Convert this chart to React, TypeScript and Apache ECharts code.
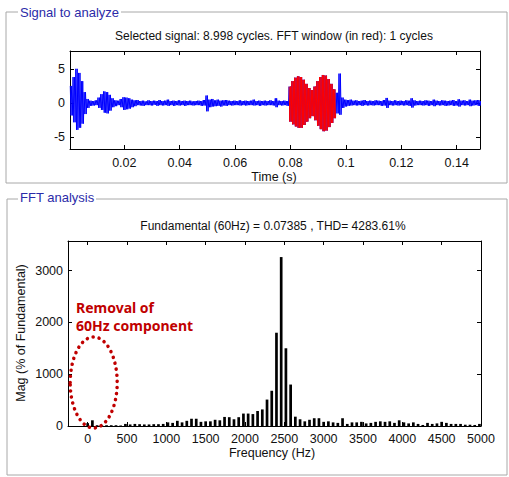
import React, { useEffect, useRef } from "react";
import * as echarts from "echarts";

// ---- Data ----
// Signal envelope: upper / lower extremes, one pair per 1 ms sample (starting at 0.5 ms)
const sampleStart = 0.0005;
const sampleStep = 0.001;
const signalHi = [
  2.5, 3.8, 5.0, 4.4, 3.2, 1.6, 0.6, 0.35, 0.3, 0.4,
  0.8, 1.3, 1.7, 1.6, 1.2, 0.7, 0.4, 0.35, 0.6, 0.85,
  0.8, 0.7, 0.5, 0.4, 0.45, 0.3, 0.35, 0.25, 0.4, 0.3,
  0.35, 0.3, 0.45, 0.3, 0.35, 0.5, 0.3, 0.35, 0.3, 0.4,
  0.3, 0.35, 0.3, 0.35, 0.25, 0.3, 0.35, 0.3, 0.45, 1.1,
  0.5, 0.6, 0.4, 0.5, 0.35, 0.4, 0.45, 0.35, 0.3, 0.35,
  0.3, 0.4, 0.3, 0.35, 0.3, 0.35, 0.5, 0.3, 0.35, 0.3,
  0.35, 0.3, 0.4, 0.3, 0.7, 0.35, 0.3, 0.35, 0.3, 2.4,
  3.2, 3.7, 3.9, 3.8, 3.4, 2.8, 2.2, 1.9, 2.4, 3.2,
  3.8, 4.1, 4.0, 3.5, 2.8, 2.0, 1.5, 4.3, 0.8,
  0.5, 0.45, 0.5, 0.35, 0.4, 0.3, 0.35, 0.45, 0.3, 0.35,
  0.3, 0.4, 0.35, 0.3, 0.45, 0.75, 0.35, 0.3, 0.4, 0.3,
  0.35, 0.3, 0.4, 0.35, 0.7, 0.4, 0.3, 0.35, 0.3, 0.4,
  0.35, 0.3, 0.5, 0.35, 0.3, 0.4, 0.35, 0.3, 0.35, 0.45,
  0.3, 0.55, 0.35, 0.4, 0.3, 0.5, 0.35, 0.4, 0.45, 0.3,
];
const signalLo = [
  -1.8, -2.8, -3.9, -3.6, -3.0, -1.6, -0.7, -0.4, -0.35, -0.3,
  -0.7, -1.0, -1.4, -1.5, -1.1, -0.6, -0.45, -0.3, -0.6, -1.0,
  -0.9, -0.8, -0.6, -0.45, -0.3, -0.35, -0.4, -0.3, -0.3, -0.35,
  -0.25, -0.4, -0.3, -0.35, -0.3, -0.4, -0.3, -0.4, -0.3, -0.35,
  -0.3, -0.4, -0.3, -0.3, -0.35, -0.3, -0.3, -0.4, -0.35, -1.2,
  -0.6, -0.5, -0.45, -0.4, -0.5, -0.35, -0.4, -0.3, -0.35, -0.3,
  -0.3, -0.35, -0.3, -0.35, -0.3, -0.3, -0.35, -0.3, -0.4, -0.3,
  -0.35, -0.3, -0.3, -0.35, -0.6, -0.3, -0.35, -0.3, -0.4, -2.7,
  -3.1, -3.4, -3.6, -3.6, -3.2, -2.7, -2.2, -1.9, -2.5, -3.3,
  -3.8, -4.1, -4.0, -3.5, -2.9, -2.2, -1.5, -1.7, -0.7,
  -0.5, -0.4, -0.35, -0.3, -0.35, -0.3, -0.4, -0.3, -0.35, -0.3,
  -0.35, -0.3, -0.3, -0.4, -0.35, -0.7, -0.3, -0.35, -0.3, -0.35,
  -0.3, -0.35, -0.3, -0.4, -0.65, -0.35, -0.3, -0.3, -0.35, -0.3,
  -0.4, -0.3, -0.45, -0.3, -0.35, -0.3, -0.4, -0.35, -0.3, -0.4,
  -0.35, -0.5, -0.3, -0.35, -0.3, -0.45, -0.35, -0.3, -0.4, -0.35,
];
// FFT window (in red): sample indices
const redStartIdx = 79;
const redEndIdx = 95;

// FFT magnitudes (% of fundamental) for harmonics h = 0..83 (60 Hz steps)
const harmonicHz = 60;
const fftMag = [
  55, 110, 15, 15, 15, 15, 15, 10, 40, 30,
  40, 35, 30, 30, 35, 35, 40, 70, 60, 100,
  70, 100, 140, 140, 80, 90, 90, 120, 110, 175,
  170, 130, 170, 240, 240, 230, 290, 320, 510, 680,
  1800, 3260, 1500, 800, 180, 130, 90, 120, 150, 150,
  80, 90, 70, 60, 150, 40, 70, 70, 80, 50,
  60, 80, 90, 80, 90, 60, 110, 70, 50, 70,
  40, 20, 60, 40, 50, 80, 60, 40, 40, 40,
  25, 25, 20, 40,
];

const timeTicks = [0.02, 0.04, 0.06, 0.08, 0.1, 0.12, 0.14];
const signalTicks = [-5, 0, 5];
const freqTicks = [0, 500, 1000, 1500, 2000, 2500, 3000, 3500, 4000, 4500, 5000];
const magTicks = [0, 1000, 2000, 3000];

const topTitle = "Selected signal: 8.998 cycles. FFT window (in red): 1 cycles";
const bottomTitle = "Fundamental (60Hz) = 0.07385 , THD= 4283.61%";
const annotation = "Removal of\n60Hz component";

const FONT = "'Liberation Sans', Arial, sans-serif";

// Each 1 ms sample is drawn as a dense stroke swinging between its read extremes.
function buildSignal(from: number, to: number): number[][] {
  const pts: number[][] = [];
  const strokes = 4;
  for (let i = from; i <= to; i++) {
    const t = sampleStart + i * sampleStep;
    for (let k = 0; k < strokes; k++) {
      pts.push([t + (k * sampleStep) / strokes, k % 2 === 0 ? signalHi[i] : signalLo[i]]);
    }
  }
  return pts;
}

function axisPair(gridIndex: number, min: number, max: number, ticks: number[], isX: boolean, labelMargin: number) {
  const common = {
    gridIndex,
    type: "value" as const,
    min,
    max,
    axisLine: { show: true, onZero: false, lineStyle: { color: "#000", width: 1 } },
    splitLine: { show: false },
  };
  const main = {
    ...common,
    position: isX ? "bottom" : "left",
    axisTick: { show: true, inside: true, length: 4, customValues: ticks, lineStyle: { color: "#000" } },
    axisLabel: {
      show: true,
      customValues: ticks,
      margin: labelMargin,
      color: "#111",
      fontFamily: FONT,
      fontSize: 12.5,
      formatter: (v: number) => String(v),
    },
  };
  const mirror = {
    ...common,
    position: isX ? "top" : "right",
    axisTick: { show: true, inside: true, length: 4, customValues: ticks, lineStyle: { color: "#000" } },
    axisLabel: { show: false },
  };
  return [main, mirror];
}

function frame(x0: number, y0: number, x1: number, y1: number, gapFrom: number, gapTo: number) {
  const pts = [[gapFrom, y0], [x0, y0], [x0, y1], [x1, y1], [x1, y0], [gapTo, y0]];
  const hl = pts.map((p) => [p[0] + 1, p[1] + 1]);
  return [
    { type: "polyline", shape: { points: hl }, style: { stroke: "#ffffff", lineWidth: 1, fill: "none" }, silent: true },
    { type: "polyline", shape: { points: pts }, style: { stroke: "#a8a8a8", lineWidth: 1, fill: "none" }, silent: true },
  ];
}

export default function App() {
  const ref = useRef<HTMLDivElement>(null);
  useEffect(() => {
    if (!ref.current) return;
    const chart = echarts.init(ref.current, undefined, { renderer: "svg" });
    const [x0, x0t] = axisPair(0, 0.0004, 0.1484, timeTicks, true, 7);
    const [y0, y0r] = axisPair(0, -6.7, 7.6, signalTicks, false, 5);
    const [x1, x1t] = axisPair(1, -250, 5000, freqTicks, true, 6);
    const [y1, y1r] = axisPair(1, 0, 3570, magTicks, false, 5);
    const fftData = fftMag.map((v, h) => [h * harmonicHz, v]);

    const textStyle = (size: number, color = "#111") => ({ fontFamily: FONT, fontSize: size, fill: color });

    chart.setOption({
      animation: false,
      backgroundColor: "#ffffff",
      grid: [
        { left: 70, top: 51, width: 410, height: 98 },
        { left: 68, top: 241, width: 413, height: 185 },
      ],
      xAxis: [x0, x0t, x1, x1t],
      yAxis: [y0, y0r, y1, y1r],
      series: [
        {
          type: "line",
          xAxisIndex: 0,
          yAxisIndex: 0,
          data: buildSignal(0, signalHi.length - 1),
          showSymbol: false,
          lineStyle: { color: "#0000ff", width: 1 },
          silent: true,
        },
        {
          type: "line",
          xAxisIndex: 0,
          yAxisIndex: 0,
          data: buildSignal(redStartIdx, redEndIdx),
          showSymbol: false,
          lineStyle: { color: "#ff0000", width: 1 },
          silent: true,
        },
        {
          type: "bar",
          xAxisIndex: 2,
          yAxisIndex: 2,
          data: fftData,
          barWidth: 2.7,
          itemStyle: { color: "#000000" },
          silent: true,
        },
      ],
      graphic: [
        ...frame(6, 12, 507, 183, 18, 121),
        ...frame(7, 199, 507, 475, 18, 96),
        { type: "text", x: 20, y: 12, style: { text: "Signal to analyze", ...textStyle(13, "#2b2ba8"), verticalAlign: "middle" } },
        { type: "text", x: 20, y: 197, style: { text: "FFT analysis", ...textStyle(13, "#2b2ba8"), verticalAlign: "middle" } },
        { type: "text", x: 274, y: 36, style: { text: topTitle, ...textStyle(12), align: "center", verticalAlign: "middle" } },
        { type: "text", x: 274, y: 177, style: { text: "Time (s)", ...textStyle(12.5), align: "center", verticalAlign: "middle" } },
        { type: "text", x: 273, y: 226, style: { text: bottomTitle, ...textStyle(12), align: "center", verticalAlign: "middle" } },
        { type: "text", x: 272, y: 453, style: { text: "Frequency (Hz)", ...textStyle(12.5), align: "center", verticalAlign: "middle" } },
        {
          type: "text",
          x: 21,
          y: 333,
          rotation: Math.PI / 2,
          style: { text: "Mag (% of Fundamental)", ...textStyle(12.5), align: "center", verticalAlign: "middle" },
        },
        {
          type: "text",
          x: 76,
          y: 298,
          style: {
            text: annotation,
            fontFamily: "'Noto Sans', 'Noto Sans CJK KR', sans-serif",
            fontWeight: "bold",
            fontSize: 14,
            lineHeight: 18,
            fill: "#c00000",
            verticalAlign: "top",
          },
        },
        {
          type: "ellipse",
          shape: { cx: 93.7, cy: 382.5, rx: 23.5, ry: 45.5 },
          style: { fill: "none", stroke: "#c00000", lineWidth: 3.5, lineDash: [0.1, 6], lineCap: "round" },
          z: 100,
          silent: true,
        },
      ],
    });
    return () => chart.dispose();
  }, []);
  return <div ref={ref} style={{ position: "fixed", left: 0, top: 0, width: 509, height: 477 }} />;
}
